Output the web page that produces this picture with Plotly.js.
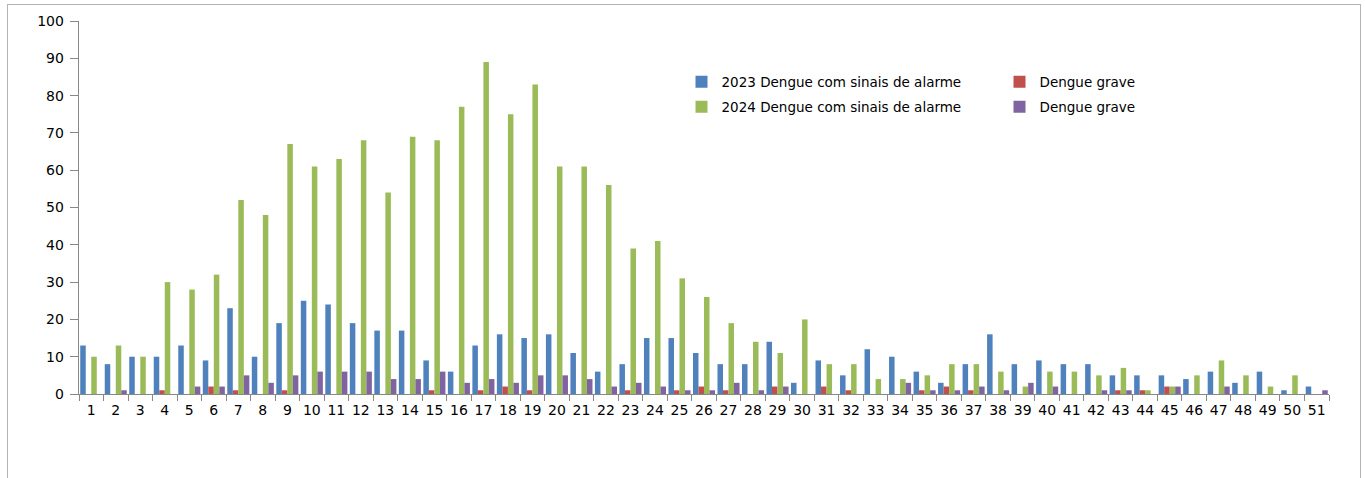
<!DOCTYPE html>
<html>
<head>
<meta charset="utf-8">
<script src="https://cdn.plot.ly/plotly-3.0.1.min.js"></script>
<style>
  html, body { margin: 0; padding: 0; background: #ffffff; overflow: hidden; }
  #chart { position: absolute; left: 0; top: 0; width: 1365px; height: 478px; }
  #frame { position: absolute; left: 7px; top: 4px; width: 1352px; height: 520px;
           border: 1.5px solid #b4b4b4; pointer-events: none; }
</style>
</head>
<body>
<div id="chart"></div>
<div id="frame"></div>
<script>
// Semanas epidemiológicas
const weeks = Array.from({length: 51}, (_, i) => String(i + 1));

// 2023
const alarme2023 = [13,8,10,10,13,9,23,10,19,25,24,19,17,17,9,6,13,16,15,16,11,6,8,15,15,11,8,8,14,3,9,5,12,10,6,3,8,16,8,9,8,8,5,5,5,4,6,3,6,1,2];
const grave2023  = [0,0,0,1,0,2,1,0,1,0,0,0,0,0,1,0,1,2,1,0,0,0,1,0,1,2,1,0,2,0,2,1,0,0,1,2,1,0,0,0,0,0,1,1,2,0,0,0,0,0,0];

// 2024
const alarme2024 = [10,13,10,30,28,32,52,48,67,61,63,68,54,69,68,77,89,75,83,61,61,56,39,41,31,26,19,14,11,20,8,8,4,4,5,8,8,6,2,6,6,5,7,1,2,5,9,5,2,5,0];
const grave2024  = [0,1,0,0,2,2,5,3,5,6,6,6,4,4,6,3,4,3,5,5,4,2,3,2,1,1,3,1,2,0,0,0,0,3,1,1,2,1,3,2,0,1,1,0,2,0,2,0,0,0,1];

const names = ['2023 Dengue com sinais de alarme', 'Dengue grave', '2024 Dengue com sinais de alarme', 'Dengue grave'];
const colors = ['#4F81BD', '#C0504D', '#9BBB59', '#8064A2'];
const series = [alarme2023, grave2023, alarme2024, grave2024];
const legends = ['legend', 'legend', 'legend2', 'legend2'];

const traces = series.map((vals, i) => ({
  type: 'bar',
  x: weeks,
  y: vals,
  name: names[i],
  legend: legends[i],
  marker: { color: colors[i], line: { width: 0 } },
  hoverinfo: 'x+y+name'
}));

const fam = 'DejaVu Sans, Verdana, sans-serif';

const legendStyle = {
  orientation: 'h',
  x: 0.482, xanchor: 'left',
  yanchor: 'middle',
  entrywidth: 273,
  bgcolor: 'rgba(0,0,0,0)',
  font: { family: fam, size: 13.5, color: '#000000' },
  traceorder: 'normal'
};

const layout = {
  width: 1365,
  height: 478,
  margin: { l: 79, r: 36, t: 21, b: 84, pad: 0 },
  paper_bgcolor: '#ffffff',
  plot_bgcolor: '#ffffff',
  font: { family: fam, size: 13, color: '#000000' },
  barmode: 'group',
  bargap: 0.1,
  bargroupgap: 0,
  showlegend: true,
  xaxis: {
    type: 'category',
    tickson: 'boundaries',
    ticks: 'outside',
    ticklen: 6,
    tickcolor: '#888888',
    tickangle: 0,
    ticklabelstandoff: 3,
    showline: true,
    linecolor: '#888888',
    linewidth: 1.3,
    showgrid: false,
    zeroline: false,
    tickfont: { family: fam, size: 14, color: '#000000' },
    fixedrange: true
  },
  yaxis: {
    range: [0, 100],
    dtick: 10,
    tick0: 0,
    ticks: 'outside',
    ticklen: 8,
    tickcolor: '#888888',
    ticklabelstandoff: 3,
    showline: true,
    linecolor: '#888888',
    linewidth: 1.3,
    showgrid: false,
    zeroline: false,
    tickfont: { family: fam, size: 14, color: '#000000' },
    fixedrange: true
  },
  legend: Object.assign({}, legendStyle, { y: 0.8366 }),
  legend2: Object.assign({}, legendStyle, { y: 0.7696 })
};

Plotly.newPlot('chart', traces, layout, { displayModeBar: false, staticPlot: true });
</script>
</body>
</html>
